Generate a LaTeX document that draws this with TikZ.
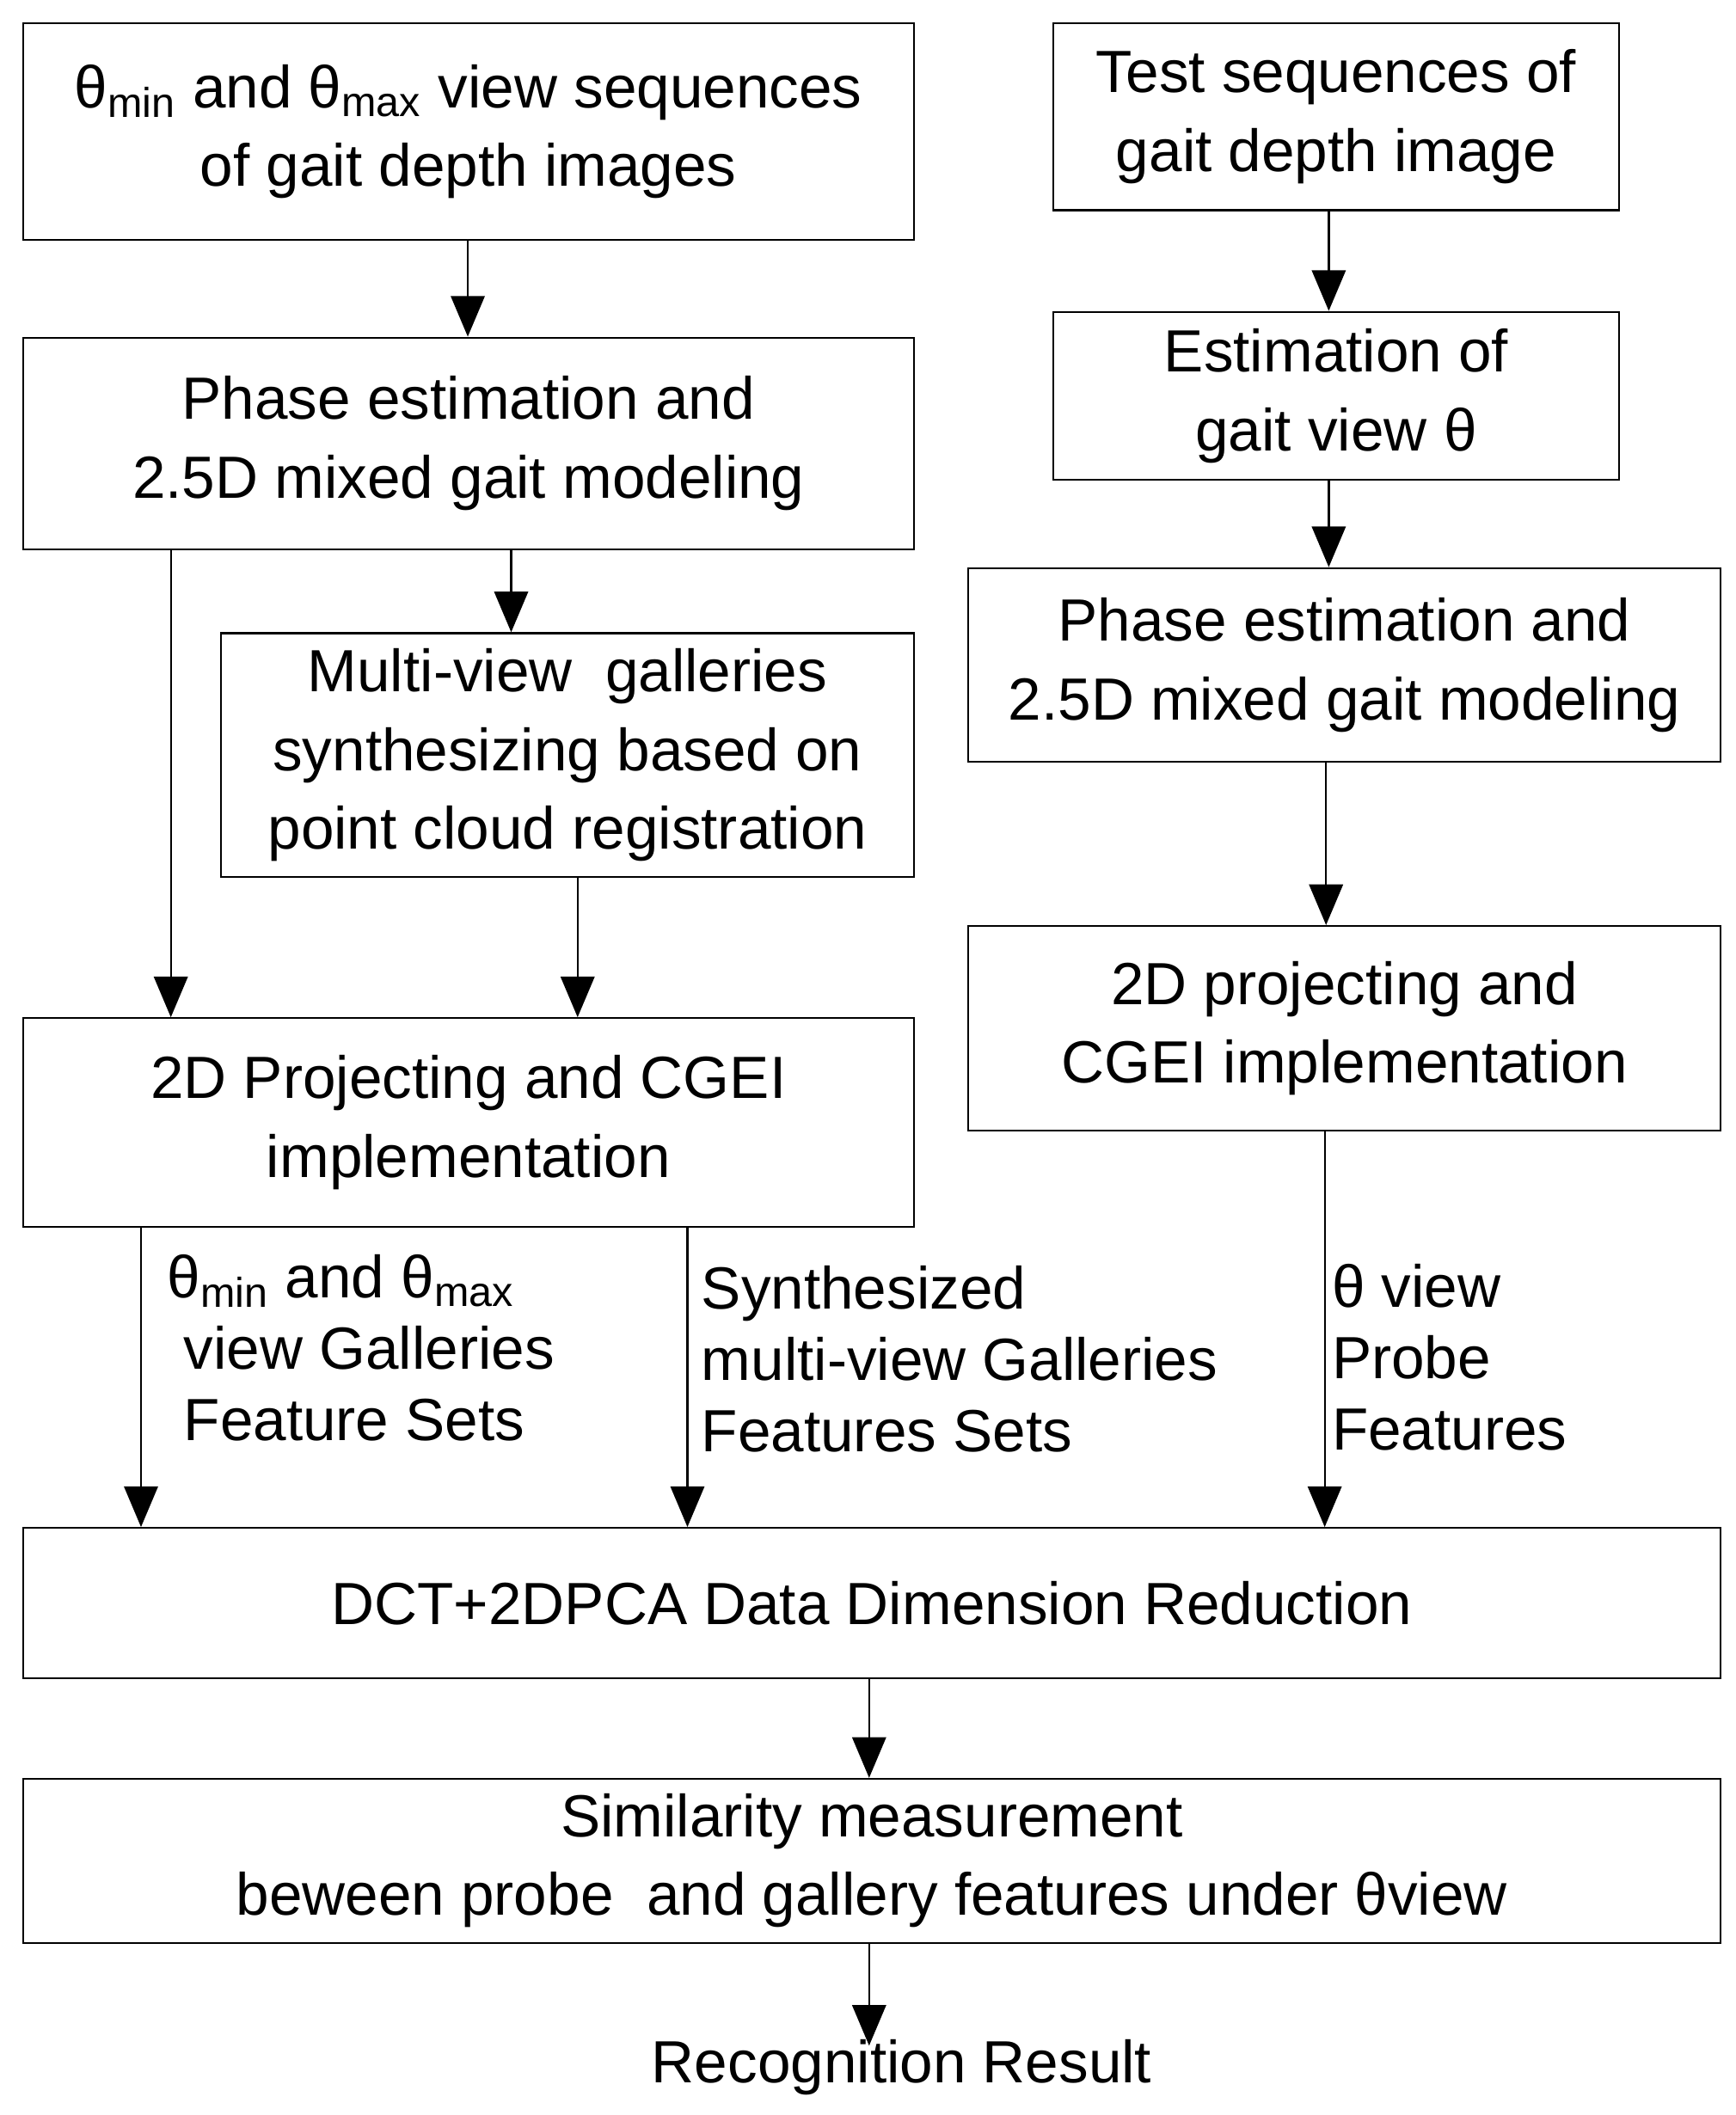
\documentclass[tikz,border=0pt]{standalone}
\usepackage{fontspec}
\setmainfont{Liberation Sans}
\usetikzlibrary{arrows.meta}
\begin{document}
\begin{tikzpicture}[x=0.02cm,y=-0.02cm,
  box/.style={draw,line width=0.8pt,inner sep=0pt,align=center,font=\fontsize{25}{33}\selectfont},
  lbl/.style={inner sep=0pt,align=left,anchor=north west,font=\fontsize{25}{30}\selectfont},
  arr/.style={line width=0.8pt,-{Triangle[length=0.6cm,width=0.5cm]}}]
\useasboundingbox (0,0) rectangle (1280,1560);
\node[box,minimum width=657*0.02cm,minimum height=160*0.02cm] (A) at (345.5,97) {θ\textsubscript{min} and θ\textsubscript{max} view sequences\\of gait depth images};
\node[box,minimum width=657*0.02cm,minimum height=156*0.02cm] (B) at (345.5,327) {Phase estimation and\\2.5D mixed gait modeling};
\node[box,minimum width=511*0.02cm,minimum height=180*0.02cm] (C) at (418.5,557) {Multi-view\ \ galleries\\synthesizing based on\\point cloud registration};
\node[box,minimum width=657*0.02cm,minimum height=154*0.02cm] (D) at (345.5,828) {2D Projecting and CGEI\\implementation};
\node[box,minimum width=417*0.02cm,minimum height=138*0.02cm] (E) at (985.5,86) {Test sequences of\\gait depth image};
\node[box,minimum width=417*0.02cm,minimum height=124*0.02cm] (F) at (985.5,292) {Estimation of\\gait view θ};
\node[box,minimum width=555*0.02cm,minimum height=143*0.02cm] (G) at (991.5,490.5) {Phase estimation and\\2.5D mixed gait modeling};
\node[box,minimum width=555*0.02cm,minimum height=151*0.02cm] (H) at (991.5,758.5) {2D projecting and\\CGEI implementation};
\node[box,minimum width=1252*0.02cm,minimum height=111*0.02cm] (I) at (643,1182.5) {DCT+2DPCA Data Dimension Reduction};
\node[box,minimum width=1252*0.02cm,minimum height=121*0.02cm] (J) at (643,1372.5) {Similarity measurement\\beween probe\ \ and gallery features under θview};
\node[box,draw=none] (R) at (665,1525) {Recognition Result};
\node[lbl] (L1) at (123,925) {θ\textsubscript{min} and θ\textsubscript{max}\\\ view Galleries\\\ Feature Sets};
\node[lbl] (L2) at (517,933) {Synthesized\\multi-view Galleries\\Features Sets};
\node[lbl] (L3) at (982,932) {θ view\\Probe\\Features};
\coordinate (xa) at (345,0); \coordinate (xb) at (377,0); \coordinate (xc) at (126,0);
\coordinate (xd) at (426,0); \coordinate (xe) at (980,0); \coordinate (xg) at (978,0);
\coordinate (xh) at (977,0); \coordinate (xi) at (104,0); \coordinate (xs) at (507,0);
\coordinate (xj) at (641,0);
\draw[arr] (A.south -| xa) -- (B.north -| xa);
\draw[arr] (B.south -| xb) -- (C.north -| xb);
\draw[arr] (B.south -| xc) -- (D.north -| xc);
\draw[arr] (C.south -| xd) -- (D.north -| xd);
\draw[arr] (E.south -| xe) -- (F.north -| xe);
\draw[arr] (F.south -| xe) -- (G.north -| xe);
\draw[arr] (G.south -| xg) -- (H.north -| xg);
\draw[arr] (D.south -| xi) -- (I.north -| xi);
\draw[arr] (D.south -| xs) -- (I.north -| xs);
\draw[arr] (H.south -| xh) -- (I.north -| xh);
\draw[arr] (I.south -| xj) -- (J.north -| xj);
\draw[arr] (J.south -| xj) -- ([yshift=-0.1cm]R.north -| xj);
\end{tikzpicture}
\end{document}
